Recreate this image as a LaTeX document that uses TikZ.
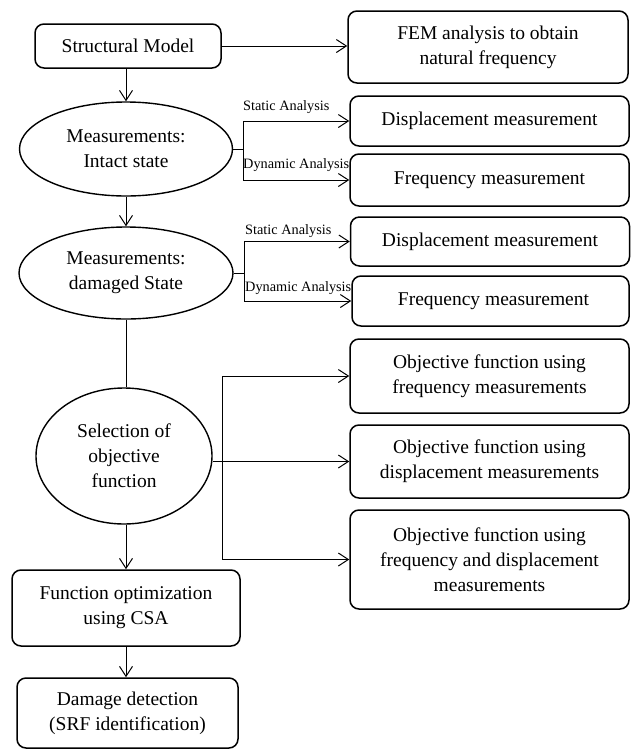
\documentclass[tikz,border=0pt]{standalone}
\usepackage{fontspec}
\setmainfont{Liberation Serif}
\usetikzlibrary{shapes.geometric,arrows.meta}
\begin{document}
\begin{tikzpicture}[x=1pt,y=-1pt,
  txt/.style={font=\fontsize{19.5pt}{25pt}\selectfont, align=center, inner sep=0pt},
  rbox/.style={txt, draw, line width=1.5pt, rounded corners=9pt},
  ell/.style={txt, draw, ellipse, line width=1.4pt},
  lbl/.style={font=\fontsize{14.3pt}{16pt}\selectfont, inner sep=0pt, anchor=west},
  conn/.style={line width=1pt},
  arr/.style={conn, -{Straight Barb[length=10pt,width=13pt,line width=1pt]}}
]
\useasboundingbox (0,0) rectangle (632,750);

% left column
\node[rbox, minimum width=186pt, minimum height=44pt] (sm) at (128,46) {Structural Model};
\node[ell, minimum width=213pt, minimum height=94pt] (e1) at (126,149) {Measurements:\\Intact state};
\node[ell, minimum width=214pt, minimum height=92pt] (e2) at (126,273) {Measurements:\\damaged State};
\node[ell, minimum width=176pt, minimum height=136pt] (e3) at (124,456) {Selection of\\objective\\function};
\node[rbox, minimum width=228pt, minimum height=76pt] (fo) at (126,608) {Function optimization\\using CSA};
\node[rbox, minimum width=221pt, minimum height=70pt] (dd) at (127.5,713) {Damage detection\\(SRF identification)};

% right column
\node[rbox, minimum width=280pt, minimum height=72pt] (fem) at (488,47) {FEM analysis to obtain\\natural frequency};
\node[rbox, minimum width=279pt, minimum height=50pt] (d1) at (489.5,121) {Displacement measurement};
\node[rbox, minimum width=279pt, minimum height=52pt] (f1) at (489.5,180) {Frequency measurement};
\node[rbox, minimum width=279pt, minimum height=49pt] (d2) at (490,241.5) {Displacement measurement};
\node[rbox, minimum width=277pt, minimum height=50pt] (f2) at (490.5,301) {\hspace*{6pt}Frequency measurement};
\node[rbox, minimum width=279pt, minimum height=74pt] (o1) at (489.5,376) {Objective function using\\frequency measurements};
\node[rbox, minimum width=279pt, minimum height=73pt] (o2) at (489.5,461.5) {Objective function using\\displacement measurements};
\node[rbox, minimum width=279pt, minimum height=99pt] (o3) at (489.5,559.5) {Objective function using\\frequency and displacement\\measurements};

% vertical flow
\draw[arr] (sm.south -| e1.north) -- (e1.north);
\draw[arr] (e1.south) -- (e2.north);
\draw[conn] (e2.south) -- (e2.south |- e3.north);
\draw[arr] (e3.south -| fo.north) -- (fo.north);
\draw[arr] (fo.south -| fo.north) -- (fo.south |- dd.north);

% structural model to FEM
\draw[arr] (sm.east) -- (sm.east -| fem.west);

% branch 1
\coordinate (b1) at ([xshift=10pt]e1.east);
\draw[conn] (e1.east) -- (b1);
\draw[arr] (b1) |- (d1.west);
\draw[arr] (b1) |- (f1.west);
\node[lbl] (s1) at (243,107) {Static Analysis};
\node[lbl] (y1) at (243,165) {Dynamic Analysis};

% branch 2
\coordinate (b2) at ([xshift=11pt]e2.east);
\draw[conn] (e2.east) -- (b2);
\draw[arr] (b2) |- (d2.west);
\draw[arr] (b2) |- (f2.west);
\node[lbl] (s2) at (245,231) {Static Analysis};
\node[lbl] (y2) at (245,288) {Dynamic Analysis};

% branch 3
\coordinate (b3) at (222,463);
\draw[arr] (e3.east |- o2.west) -- (o2.west);
\draw[arr] (b3 |- o3.west) |- (o1.west);
\draw[arr] (b3 |- o3.west) -- (o3.west);
\end{tikzpicture}
\end{document}
